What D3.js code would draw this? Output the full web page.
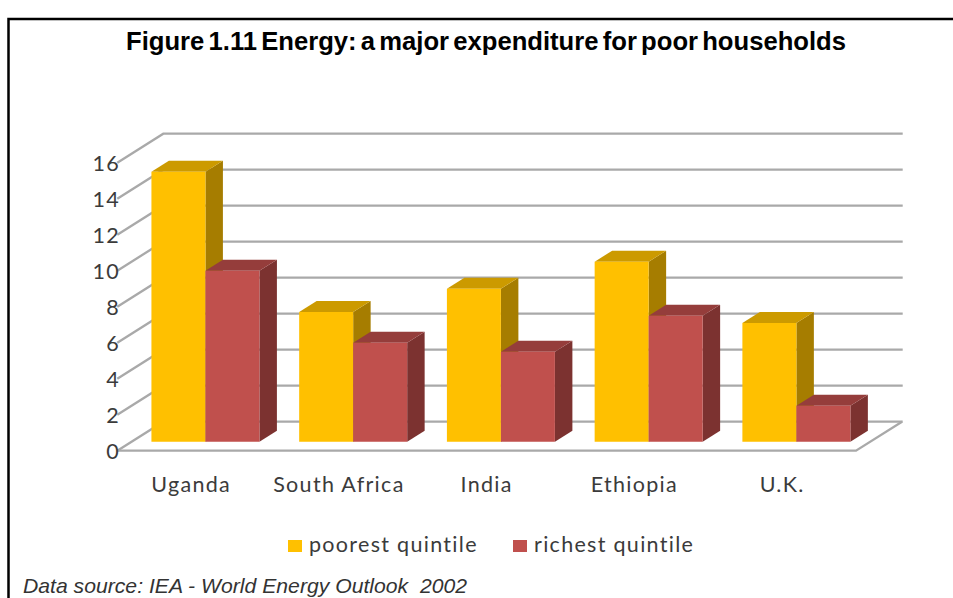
<!DOCTYPE html>
<html>
<head>
<meta charset="utf-8">
<script src="https://cdn.jsdelivr.net/npm/d3@7/dist/d3.min.js"></script>
<style>
  html, body { margin: 0; padding: 0; background: #fff; }
  svg { display: block; }
  .axis text { font-family: Lato, sans-serif; font-size: 21.5px; fill: #3b3b3b; letter-spacing: 1.3px; }
  .axis path, .axis line { display: none; }
</style>
</head>
<body>
<svg id="chart" width="953" height="598"></svg>
<script>
// Energy share of household spending, percent
const countries = ["Uganda", "South Africa", "India", "Ethiopia", "U.K."];
const poorest = [15, 7.2, 8.5, 10, 6.6];
const richest = [9.5, 5.5, 5, 7, 2];
const yTicks = [0, 2, 4, 6, 8, 10, 12, 14, 16];
const seriesNames = ["poorest quintile", "richest quintile"];

const svg = d3.select("#chart");

// Oblique projection: category and value set the front plane, depth pushes up and to the right
const x = d3.scaleBand().domain(countries).range([117.3, 856]);
const y = d3.scaleLinear().domain([0, 16]).range([450.7, 162.7]);
const depthX = d3.scaleLinear().domain([0, 1]).range([0, 46]);
const depthY = d3.scaleLinear().domain([0, 1]).range([0, -29]);
const project = (px, v, d) => [px + depthX(d), y(v) + depthY(d)];

const barW = 54;
const barFront = 0.31, barBack = 0.69;
const colors = [
  { front: "#ffc000", top: "#cc9a00", side: "#a67d00" },
  { front: "#c0504d", top: "#953d3b", side: "#7c3230" }
];

// Wall and floor grid
const gridColor = "#a9a9a9";
const rightEdge = 902.7;
const line = d3.line();
svg.append("g").selectAll("path").data(yTicks).join("path")
  .attr("d", v => line([
    project(x.range()[0], v, 0),
    project(x.range()[0], v, 1),
    [rightEdge, y(v) + depthY(1)]
  ]))
  .attr("fill", "none").attr("stroke", gridColor).attr("stroke-width", 2.3);

// Front and right edges of the floor
svg.append("path")
  .attr("d", line([
    project(x.range()[0], 0, 0),
    project(x.range()[1], 0, 0),
    project(x.range()[1], 0, 1)
  ]))
  .attr("fill", "none").attr("stroke", gridColor).attr("stroke-width", 2.3);

// One box: side, top, then front face
function drawBox(g, left, value, c) {
  const right = left + barW;
  const poly = pts => g.append("polygon").attr("points", pts.map(p => p.join(",")).join(" "));
  poly([project(right, 0, barFront), project(right, 0, barBack), project(right, value, barBack), project(right, value, barFront)]).attr("fill", c.side);
  poly([project(left, value, barFront), project(left, value, barBack), project(right, value, barBack), project(right, value, barFront)]).attr("fill", c.top);
  poly([project(left, 0, barFront), project(right, 0, barFront), project(right, value, barFront), project(left, value, barFront)]).attr("fill", c.front);
}

// Left box first, so the box beside it covers its side face
const bars = svg.append("g");
countries.forEach((name, i) => {
  const groupLeft = x(name) + (x.bandwidth() - 2 * barW) / 2;
  drawBox(bars, groupLeft, poorest[i], colors[0]);
  drawBox(bars, groupLeft + barW, richest[i], colors[1]);
});

// Axes share the scales used for the bars
svg.append("g").attr("class", "axis")
  .attr("transform", "translate(120,1)")
  .call(d3.axisLeft(y).tickValues(yTicks).tickSize(0).tickPadding(0))
  .call(g => g.select(".domain").remove());

svg.append("g").attr("class", "axis")
  .attr("transform", "translate(0,477)")
  .call(d3.axisBottom(x).tickSize(0).tickPadding(0))
  .call(g => g.select(".domain").remove());

// Legend
const legendX = [288, 513];
seriesNames.forEach((name, i) => {
  svg.append("rect").attr("x", legendX[i]).attr("y", 540).attr("width", 14).attr("height", 12).attr("fill", colors[i].front);
  svg.append("text").attr("x", legendX[i] + 21).attr("y", 552)
    .attr("font-family", "Lato, sans-serif").attr("font-size", 21.5).attr("letter-spacing", 1.3).attr("fill", "#3b3b3b")
    .text(name);
});

// Title, source note and frame
svg.append("text").attr("x", 486).attr("y", 50).attr("text-anchor", "middle")
  .attr("font-family", "'Liberation Sans', sans-serif").attr("font-weight", "bold").attr("font-size", 26.5)
  .attr("word-spacing", -3).attr("textLength", 720).attr("lengthAdjust", "spacingAndGlyphs").attr("fill", "#000")
  .text("Figure 1.11 Energy: a major expenditure for poor households");

svg.append("text").attr("x", 23).attr("y", 592.5)
  .attr("font-family", "'Liberation Sans', sans-serif").attr("font-style", "italic").attr("font-size", 21)
  .attr("textLength", 444).attr("lengthAdjust", "spacingAndGlyphs").attr("fill", "#333")
  .style("white-space", "pre")
  .text("Data source: IEA - World Energy Outlook  2002");

svg.append("path").attr("d", "M8.5 598V19H953").attr("fill", "none").attr("stroke", "#000").attr("stroke-width", 2.5);
</script>
</body>
</html>
